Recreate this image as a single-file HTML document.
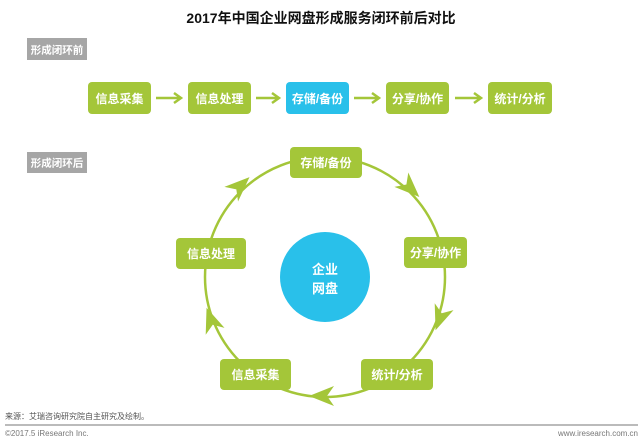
<!DOCTYPE html>
<html><head><meta charset="utf-8"><style>
body{margin:0;background:#fff;width:643px;height:441px;overflow:hidden;font-family:"Liberation Sans","Noto Sans CJK SC",sans-serif}
svg text{font-family:"Liberation Sans","Noto Sans CJK SC",sans-serif}
</style></head><body>
<svg width="643" height="441" viewBox="0 0 643 441">
<defs>
<polygon id="ah" points="13,0 -12,-10 -5,0 -12,10" fill="#a4c639"/>
</defs>
<text x="321" y="23" text-anchor="middle" font-size="14" font-weight="bold" fill="#111">2017年中国企业网盘形成服务闭环前后对比</text>
<rect x="27" y="38" width="60" height="22" fill="#a6a6a6"/>
<text x="57" y="53.5" text-anchor="middle" font-size="10.5" font-weight="bold" fill="#fff">形成闭环前</text>
<rect x="27" y="152" width="60" height="21" fill="#a6a6a6"/>
<text x="57" y="166.5" text-anchor="middle" font-size="10.5" font-weight="bold" fill="#fff">形成闭环后</text>
<g font-size="12" font-weight="bold" fill="#fff" text-anchor="middle">
<rect x="88" y="82" width="63" height="32" rx="4" fill="#a4c639"/><text x="119.5" y="103">信息采集</text>
<rect x="188" y="82" width="63" height="32" rx="4" fill="#a4c639"/><text x="219.5" y="103">信息处理</text>
<rect x="286" y="82" width="63" height="32" rx="4" fill="#29c0ea"/><text x="317.5" y="103">存储/备份</text>
<rect x="386" y="82" width="63" height="32" rx="4" fill="#a4c639"/><text x="417.5" y="103">分享/协作</text>
<rect x="488" y="82" width="64" height="32" rx="4" fill="#a4c639"/><text x="520" y="103">统计/分析</text>
</g>
<g stroke="#a4c639" stroke-width="2.5" fill="none">
<path d="M156 98H180M174 93L181 98L174 103"/>
<path d="M256 98H278M272 93L279 98L272 103"/>
<path d="M354 98H378M372 93L379 98L372 103"/>
<path d="M455 98H480M474 93L481 98L474 103"/>
</g>
<circle cx="325" cy="277" r="120" fill="none" stroke="#a4c639" stroke-width="2.5"/>
<use href="#ah" transform="translate(410,188) rotate(44)"/>
<use href="#ah" transform="translate(440,318) rotate(110)"/>
<use href="#ah" transform="translate(322,396) rotate(180)"/>
<use href="#ah" transform="translate(211,320) rotate(250)"/>
<use href="#ah" transform="translate(240,186) rotate(317)"/>
<circle cx="325" cy="277" r="45" fill="#29c0ea"/>
<g font-size="13" font-weight="bold" fill="#fff" text-anchor="middle">
<text x="325" y="274">企业</text><text x="325" y="293">网盘</text>
</g>
<g font-size="12" font-weight="bold" fill="#fff" text-anchor="middle">
<rect x="290" y="147" width="72" height="31" rx="4" fill="#a4c639"/><text x="326" y="167">存储/备份</text>
<rect x="404" y="237" width="63" height="31" rx="4" fill="#a4c639"/><text x="435.5" y="257">分享/协作</text>
<rect x="176" y="238" width="70" height="31" rx="4" fill="#a4c639"/><text x="211" y="258">信息处理</text>
<rect x="220" y="359" width="71" height="31" rx="4" fill="#a4c639"/><text x="255.5" y="379">信息采集</text>
<rect x="361" y="359" width="72" height="31" rx="4" fill="#a4c639"/><text x="397" y="379">统计/分析</text>
</g>
<text x="5" y="419" font-size="8" fill="#555">来源：艾瑞咨询研究院自主研究及绘制。</text>
<line x1="5" y1="425" x2="638" y2="425" stroke="#777" stroke-width="1"/>
<text x="5" y="436" font-size="8" fill="#777">©2017.5 iResearch Inc.</text>
<text x="638" y="436" font-size="8" fill="#777" text-anchor="end">www.iresearch.com.cn</text>
</svg>
</body></html>
